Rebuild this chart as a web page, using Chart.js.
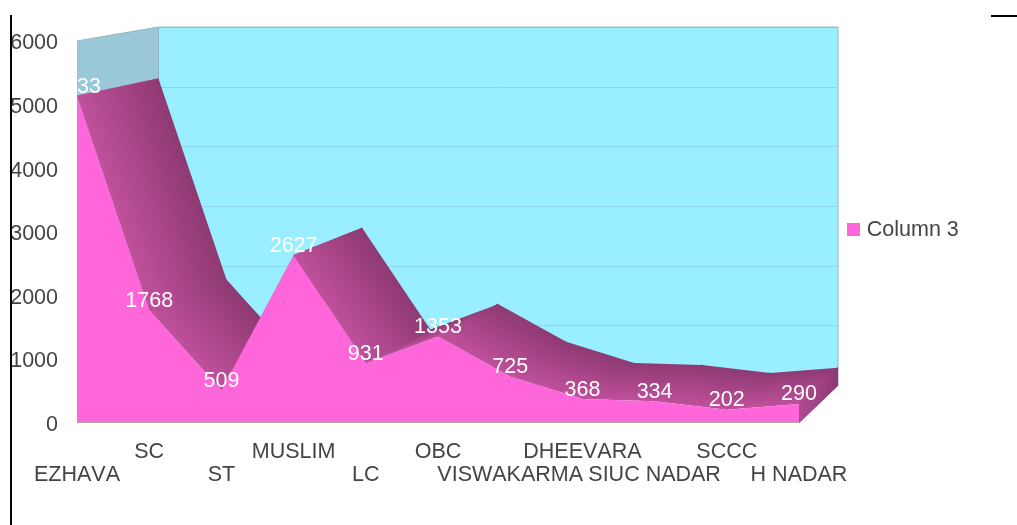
<!DOCTYPE html>
<html>
<head>
<meta charset="utf-8">
<script src="https://cdn.jsdelivr.net/npm/chart.js@4"></script>
<style>
html,body{margin:0;padding:0;background:#fff;width:1017px;height:525px;overflow:hidden}
#wrap{position:relative;width:1017px;height:525px}
canvas{position:absolute;left:0;top:0}
.rule{position:absolute;background:#000}
</style>
</head>
<body>
<div id="wrap">
<canvas id="c" width="1017" height="525"></canvas>
<div class="rule" style="left:10px;top:15px;width:2px;height:510px"></div>
<div class="rule" style="left:991px;top:15px;width:26px;height:2px"></div>
</div>
<script>
const categories = ['EZHAVA','SC','ST','MUSLIM','LC','OBC','VISWAKARMA','DHEEVARA','SIUC NADAR','SCCC','H NADAR'];
const values = [5133,1768,509,2627,931,1353,725,368,334,202,290];
const seriesName = 'Column 3';
const yMax = 6000;
const yStep = 1000;

const PINK='#ff66d9', WALL='#99eeff', GRID='#8ed6e6', EDGE='#92b4bf', SIDE='#9ac8d8', TEXT='#444444';
const FONT='"Liberation Sans", Arial, sans-serif';
const FS=21.5;

// Legend swatch, as a point style so the label gap can be tightened
const swatch=document.createElement('canvas');
swatch.width=13;swatch.height=13;
const sctx=swatch.getContext('2d');sctx.fillStyle=PINK;sctx.fillRect(0,0,13,13);

// Perspective mapping of the front plane onto the back wall
function backOf(chart){
  const a=chart.chartArea;
  const sx=679.5/(a.right-a.left), sy=358/(a.bottom-a.top);
  return (x,y)=>[158.5+(x-a.left)*sx, 385-(a.bottom-y)*sy];
}

const depthPlugin={
  id:'depth',
  beforeLayout(chart){
    const l=chart.legend;
    if(!l._wrapped){const f=l.fit;l.fit=function(){f.call(this);this.width=218;};l._wrapped=true;}
  },
  afterLayout(chart){
    const l=chart.legend;
    l.left=847; l.right=1010; l.top=215; l.bottom=245;
  },
  beforeDraw(chart){
    chart.ctx.fontKerning='none';
  },
  beforeDatasetsDraw(chart){
    const {ctx,chartArea:a,scales:{x,y}}=chart;
    const B=backOf(chart);
    const y0=y.getPixelForValue(0), yT=y.getPixelForValue(yMax);
    const tl=B(a.left,yT), bl=B(a.left,y0), br=B(a.right,y0), tr=B(a.right,yT);
    ctx.save();
    // back wall
    ctx.fillStyle=WALL;
    ctx.fillRect(tl[0],tl[1],tr[0]-tl[0],br[1]-tr[1]);
    // grid lines on the wall
    ctx.strokeStyle=GRID; ctx.lineWidth=1;
    y.ticks.forEach(t=>{
      const p=y.getPixelForValue(t.value);
      const l=B(a.left,p), r=B(a.right,p);
      ctx.beginPath();ctx.moveTo(l[0],Math.round(l[1])+.5);ctx.lineTo(r[0],Math.round(r[1])+.5);ctx.stroke();
    });
    // side wall
    ctx.fillStyle=SIDE;
    ctx.beginPath();ctx.moveTo(a.left,yT);ctx.lineTo(tl[0],tl[1]);ctx.lineTo(bl[0],bl[1]);ctx.lineTo(a.left,y0);ctx.closePath();ctx.fill();
    // edges
    ctx.strokeStyle=EDGE;
    ctx.beginPath();ctx.moveTo(a.left,yT);ctx.lineTo(tl[0],tl[1]);ctx.lineTo(tr[0],tr[1]);ctx.lineTo(br[0],br[1]);
    ctx.moveTo(tl[0],tl[1]);ctx.lineTo(bl[0],bl[1]);ctx.stroke();
    // ribbon faces: shading runs across each face so neighbouring faces join without a seam
    const face=(p1,p2,LIGHT,DARK)=>{
      const q1=B(p1[0],p1[1]), q2=B(p2[0],p2[1]);
      let dx=p2[0]-p1[0], dy=p2[1]-p1[1];
      const len=Math.hypot(dx,dy)||1; dx/=len; dy/=len;
      const nx=-dy, ny=dx;
      const d=(q1[0]-p1[0])*nx+(q1[1]-p1[1])*ny;
      const g=ctx.createLinearGradient(p1[0],p1[1],p1[0]+nx*d,p1[1]+ny*d);
      g.addColorStop(0,LIGHT);g.addColorStop(1,DARK);
      ctx.fillStyle=g;
      ctx.beginPath();ctx.moveTo(p1[0],p1[1]);ctx.lineTo(p2[0],p2[1]);ctx.lineTo(q2[0],q2[1]);ctx.lineTo(q1[0],q1[1]);ctx.closePath();ctx.fill();
      ctx.strokeStyle=g;ctx.lineWidth=1.2;
      ctx.beginPath();ctx.moveTo(p1[0],p1[1]);ctx.lineTo(q1[0],q1[1]);ctx.moveTo(p2[0],p2[1]);ctx.lineTo(q2[0],q2[1]);ctx.stroke();
    };
    const pts=values.map((v,i)=>[x.getPixelForValue(i),y.getPixelForValue(v)]);
    for(let i=0;i<pts.length-1;i++) face(pts[i],pts[i+1],'#c0509c','#8e3a72');
    // right end cap
    const last=pts[pts.length-1];
    face([last[0],y0],last,'#b04a90','#8e3a72');
    ctx.restore();
  },
  afterDatasetsDraw(chart){
    const {ctx,chartArea:a,scales:{x,y}}=chart;
    ctx.save();
    // floor line
    ctx.strokeStyle='#aaaaaa';ctx.lineWidth=1;
    ctx.beginPath();ctx.moveTo(a.left,Math.floor(a.bottom)+.5);ctx.lineTo(a.right,Math.floor(a.bottom)+.5);ctx.stroke();
    // value labels, clipped at the plot's left edge
    ctx.beginPath();ctx.rect(a.left,0,chart.width-a.left,chart.height);ctx.clip();
    ctx.fillStyle='#ffffff';ctx.font=FS+'px '+FONT;ctx.textAlign='center';ctx.textBaseline='middle';
    values.forEach((v,i)=>ctx.fillText(String(v),x.getPixelForValue(i),y.getPixelForValue(v)-9.5));
    ctx.restore();
  }
};

new Chart(document.getElementById('c'),{
  type:'line',
  data:{labels:categories,datasets:[{label:seriesName,data:values,fill:'origin',backgroundColor:PINK,borderColor:PINK,borderWidth:0,pointRadius:0,tension:0}]},
  plugins:[depthPlugin],
  options:{
    responsive:false,animation:false,
    layout:{padding:{top:41,left:0,right:0,bottom:0}},
    plugins:{
      tooltip:{enabled:false},
      legend:{
        position:'right',align:'start',fullSize:false,
        labels:{usePointStyle:true,pointStyle:swatch,pointStyleWidth:5,boxHeight:13,padding:4,color:TEXT,font:{family:FONT,size:FS}}
      }
    },
    scales:{
      x:{
        grid:{display:false,drawTicks:false},border:{display:false},
        afterFit(s){s.height=102.5;},
        ticks:{
          autoSkip:false,maxRotation:0,minRotation:0,padding:18,color:TEXT,
          font:{family:FONT,size:FS,lineHeight:'23px'},
          callback(v,i){const t=categories[i];return i%2?[t,'']:['',t];}
        }
      },
      y:{
        min:0,max:yMax,
        grid:{display:false,drawTicks:false},border:{display:false},
        afterFit(s){s.width=77;},
        ticks:{stepSize:yStep,padding:19,color:TEXT,font:{family:FONT,size:FS,lineHeight:'5px'},
          callback(v){return ['',String(v)];}}
      }
    }
  }
});
</script>
</body>
</html>
